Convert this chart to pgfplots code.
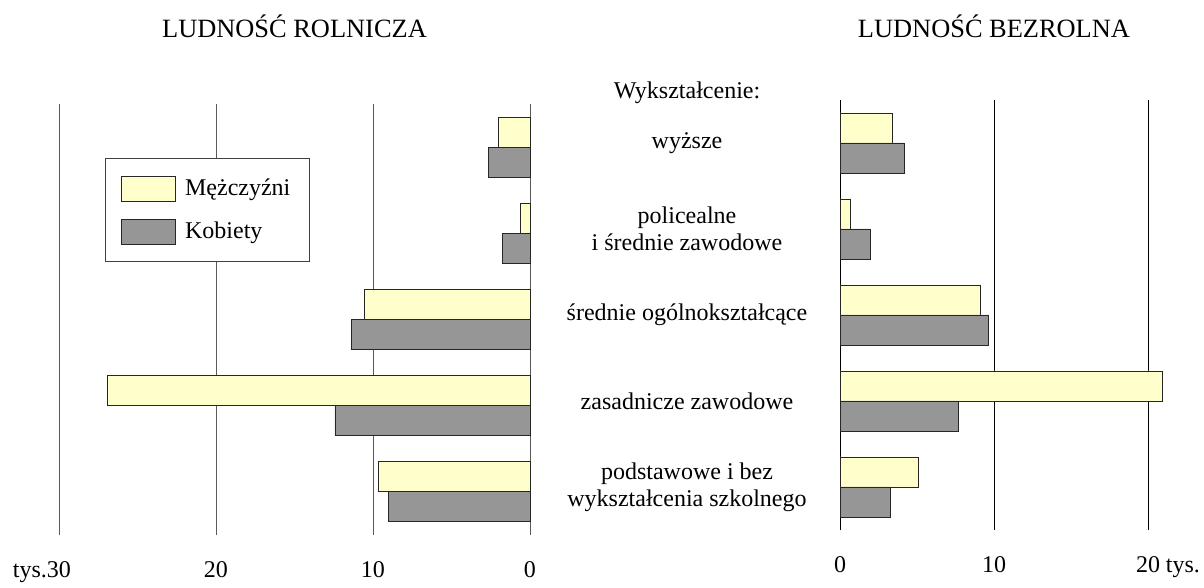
\documentclass[border=0pt]{standalone}
\usepackage{pgfplots}
\pgfplotsset{compat=1.18}
\usepackage{fontspec}
\setmainfont{Liberation Serif}
\definecolor{myel}{HTML}{FFFFCC}
\definecolor{mgray}{HTML}{969696}
\newcommand{\fs}{\fontsize{18}{20.5}\selectfont}
\begin{document}
\begin{tikzpicture}
\path (0pt,0pt) rectangle (903pt,435.75pt);
\pgfplotsset{
  common/.style={
    scale only axis, xbar, bar width=22.5pt,
    ymin=-0.5, ymax=4.5,
    axis line style={draw=none},
    major tick length=0pt,
    xmajorgrids,
    tick label style={font=\fs},
    xticklabel style={anchor=base, yshift=-32pt},
    title style={at={(0.5,1)}, anchor=base, font=\fontsize{19.8}{22}\selectfont},
    clip=false,
  },
  mbar/.style={draw=black!85, line width=0.6pt, fill=myel, bar shift=11.25pt},
  kbar/.style={draw=black!85, line width=0.6pt, fill=mgray, bar shift=-11.25pt},
}
% Left panel: ludnosc rolnicza
\begin{axis}[common,
  at={(44.25pt,34.5pt)}, anchor=south west,
  width=353.25pt, height=323.25pt,
  x dir=reverse, xmin=0, xmax=30,
  xtick={0,10,20,30}, xticklabels={0,10,20,{\llap{tys.}30}},
  ytick=\empty,
  grid style={black!65, line width=0.6pt},
  title={LUDNOŚĆ ROLNICZA}, title style={yshift=44pt},
  legend style={at={(0.0968,0.8747)}, anchor=north west, draw=black!75, line width=0.6pt,
    fill=white, font=\fs, inner xsep=12pt, inner ysep=13pt, row sep=12.75pt,
    /tikz/every odd column/.append style={column sep=5pt}},
  legend cell align=left,
  legend image code/.code={\draw[#1] (0pt,-9.375pt) rectangle (40.5pt,9.375pt);},
]
\addplot[mbar] coordinates {(2.03,4) (0.59,3) (10.53,2) (26.9,1) (9.64,0)};
\addplot[kbar] coordinates {(2.66,4) (1.75,3) (11.39,2) (12.42,1) (8.99,0)};
\legend{Mężczyźni, Kobiety}
\end{axis}
% Right panel: ludnosc bezrolna
\begin{axis}[common,
  at={(630pt,38.25pt)}, anchor=south west,
  width=231pt, height=322.5pt,
  xmin=0, xmax=20,
  xtick={0,10,20}, xticklabels={0,10,{20\rlap{ tys.}}},
  ytick={0,1,2,3,4},
  yticklabels={{podstawowe i bez\\wykształcenia szkolnego},{zasadnicze zawodowe},{średnie ogólnokształcące},{policealne\\i średnie zawodowe},{wyższe}},
  yticklabel style={align=center, anchor=center, xshift=-114.75pt},
  grid style={black, line width=0.6pt},
  title={LUDNOŚĆ BEZROLNA}, title style={yshift=41pt},
]
\addplot[mbar] coordinates {(3.4,4) (0.67,3) (9.11,2) (20.93,1) (5.09,0)};
\addplot[kbar] coordinates {(4.18,4) (1.97,3) (9.63,2) (7.68,1) (3.27,0)};
\end{axis}
\node[anchor=base, font=\fs] at (515.25pt,362pt) {Wykształcenie:};
\end{tikzpicture}
\end{document}
